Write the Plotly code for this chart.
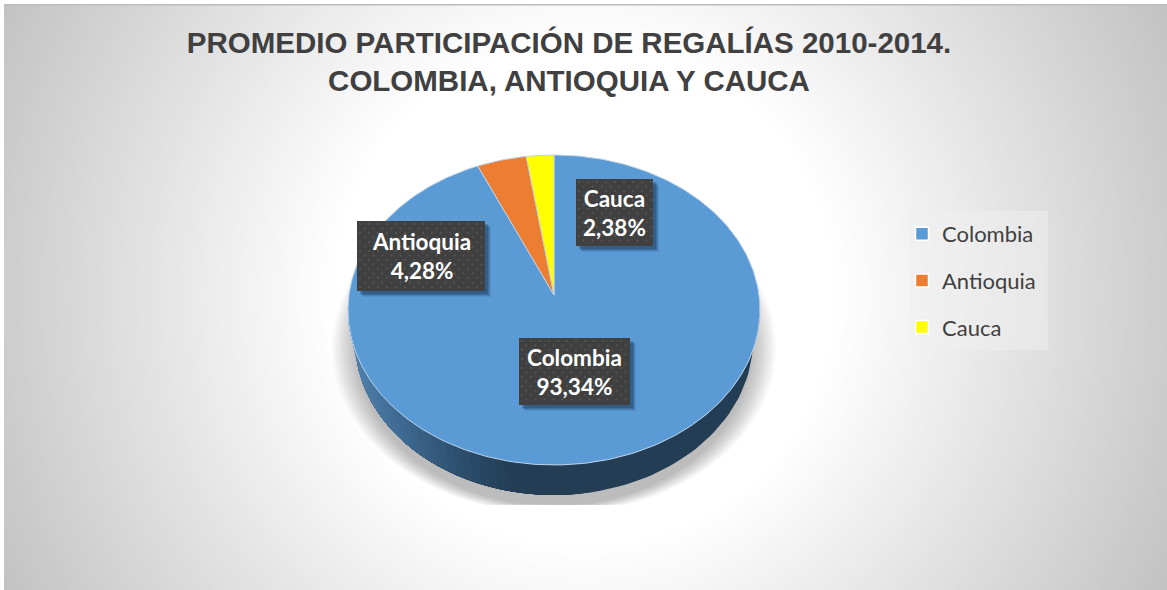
import numpy as np
import plotly.graph_objects as go

# ---- data ----
categories = ["Colombia", "Antioquia", "Cauca"]
values = [93.34, 4.28, 2.38]
title_lines = ["PROMEDIO PARTICIPACIÓN DE REGALÍAS 2010-2014.", "COLOMBIA, ANTIOQUIA Y CAUCA"]

# ---- style ----
slice_colors = ["#5B9BD5", "#ED7D31", "#FFFF00"]
label_boxes = {"Colombia": (519, 630, 338, 405), "Antioquia": (357, 485, 221, 291), "Cauca": (576, 653, 179, 246)}
W, H = 1167, 590
CX, CY, RX, RY = 554, 310, 206, 155
APEX_Y = 295
CY2, RX2, RY2 = 340, 199, 155
FONT = "Lato"

fig = go.Figure()
shapes = []

# radial background
def gray(r):
    v = int(round(255 - max(0, r - 250) * 0.15))
    return f"rgb({v},{v},{v})"
for r in np.arange(680, 246, -4):
    shapes.append(dict(type="circle", xref="x", yref="y", x0=584 - r, x1=584 + r, y0=295 - r, y1=295 + r,
                       fillcolor=gray(r), line=dict(width=0), layer="below"))
# legend panel
shapes.append(dict(type="rect", xref="x", yref="y", x0=910, x1=1048, y0=211, y1=350,
                   fillcolor="rgba(240,240,240,0.5)", line=dict(width=0), layer="below"))
# white picture margin and top edge
shapes.append(dict(type="rect", xref="x", yref="y", x0=0, x1=W, y0=4, y1=5.5, fillcolor="#bcbcbc", line=dict(width=0), layer="above"))
shapes.append(dict(type="rect", xref="x", yref="y", x0=0, x1=W, y0=0, y1=4, fillcolor="#ffffff", line=dict(width=0), layer="above"))
shapes.append(dict(type="rect", xref="x", yref="y", x0=0, x1=4, y0=0, y1=H, fillcolor="#ffffff", line=dict(width=0), layer="above"))

def skip(**kw):
    fig.add_trace(go.Scatter(hoverinfo="skip", showlegend=False, **kw))

# drop shadow below the disc
phi = np.linspace(0, 2 * np.pi, 181)
for i in range(12):
    k = i / 11
    sx = CX + (222 - 24 * k) * np.cos(phi)
    sy = 348 + (166 - 8 * k) * np.sin(phi)
    skip(x=sx, y=np.minimum(sy, 505), mode="lines", fill="toself", line=dict(width=0),
         fillcolor="rgba(0,0,0,0.022)")

# side wall of the disc: each band runs on to the far end, so later bands paint over it with no seams
def wall_color(x):
    stops_x = [355, 397, 463, 515, 760]
    stops = np.array([[0x52, 0x82, 0xAE], [0x41, 0x6F, 0x98], [0x2E, 0x50, 0x70], [0x24, 0x3E, 0x55], [0x23, 0x3D, 0x54]])
    c = [int(np.interp(x, stops_x, stops[:, j])) for j in range(3)]
    return f"rgb({c[0]},{c[1]},{c[2]})"
edges = np.linspace(np.pi / 2 - 0.2, np.pi, 41)
edges = np.r_[0.0, edges]
for a in edges[:-1]:
    t = np.linspace(a, np.pi, 90)
    xs = np.r_[CX + RX * np.cos(t), (CX + RX2 * np.cos(t))[::-1]]
    ys = np.r_[CY + RY * np.sin(t), (CY2 + RY2 * np.sin(t))[::-1]]
    col = wall_color(CX + RX2 * np.cos(a))
    skip(x=xs, y=ys, mode="lines", fill="toself", line=dict(width=0), fillcolor=col)

# slices, drawn from the values: rays from the apex meet the rim of the ellipse
def rim(theta):
    dx, dy = RX * np.sin(theta), -RY * np.cos(theta)
    y0 = APEX_Y - CY
    A = (dx / RX) ** 2 + (dy / RY) ** 2
    B = 2 * y0 * dy / RY ** 2
    C = (y0 / RY) ** 2 - 1
    s = (-B + np.sqrt(B * B - 4 * A * C)) / (2 * A)
    return CX + s * dx, APEX_Y + s * dy

total = sum(values)
start = 0.0
for name, v, col in zip(categories, values, slice_colors):
    end = start + v / total * 2 * np.pi
    th = np.linspace(start, end, max(6, int(v * 4)))
    rx_, ry_ = rim(th)
    fig.add_trace(go.Scatter(x=np.r_[CX, rx_, CX], y=np.r_[APEX_Y, ry_, APEX_Y], mode="lines", fill="toself",
                             fillcolor=col, line=dict(width=1, color="#BDD3E8"), name=name, showlegend=False,
                             hoverinfo="name"))
    start = end

# data labels
annotations = []
for name, v in zip(categories, values):
    x0, x1, y0, y1 = label_boxes[name]
    for off, alpha in ((6, 0.10), (5, 0.14), (4, 0.20), (3, 0.22)):
        skip(x=[x0 + off, x1 + off, x1 + off, x0 + off, x0 + off], y=[y0 + off, y0 + off, y1 + off, y1 + off, y0 + off],
             mode="lines", fill="toself", line=dict(width=0), fillcolor=f"rgba(15,40,70,{alpha})")
    skip(x=[x0, x1, x1, x0, x0], y=[y0, y0, y1, y1, y0], mode="lines", fill="toself", line=dict(width=0), fillcolor="#404040")
    gx, gy = [], []
    for j, yy in enumerate(np.arange(y0 + 3, y1 - 1, 4.5)):
        for xx in np.arange(x0 + 3 + (j % 2) * 4.5, x1 - 1, 9):
            gx.append(xx); gy.append(yy)
    skip(x=gx, y=gy, mode="markers", marker=dict(size=1.8, color="#5A5A5A", line=dict(width=0)))
    label = f"{v:.2f}".replace(".", ",") + "%"
    annotations.append(dict(x=(x0 + x1) / 2, y=(y0 + y1) / 2, xref="x", yref="y", showarrow=False,
                            text=f"<b>{name}<br>{label}</b>", align="center",
                            font=dict(family=FONT, size=22.5, color="#FFFFFF")))

# legend entries
for name, col in zip(categories, slice_colors):
    fig.add_trace(go.Scatter(x=[None], y=[None], mode="markers", name=name, legendgroup=name,
                             marker=dict(symbol="square", size=13, color=col, line=dict(width=1.5, color="#FFFFFF"))))

fig.update_layout(
    width=W, height=H, autosize=False,
    margin=dict(l=0, r=0, t=0, b=0),
    paper_bgcolor="#FFFFFF", plot_bgcolor="rgba(0,0,0,0)",
    title=dict(text="<b>" + "<br>".join(title_lines) + "</b>", x=569 / W, xanchor="center", y=1 - 53 / H, yanchor="middle",
               font=dict(family="Liberation Sans", size=29.5, color="#404040")),
    xaxis=dict(range=[0, W], visible=False, fixedrange=True),
    yaxis=dict(range=[H, 0], visible=False, fixedrange=True),
    shapes=shapes, annotations=annotations,
    legend=dict(x=902 / W, xanchor="left", y=1 - 213 / H, yanchor="top", bgcolor="rgba(0,0,0,0)",
                font=dict(family=FONT, size=22, color="#404040"), tracegroupgap=15, itemclick=False, itemdoubleclick=False),
    hovermode="closest",
)
fig.write_html("out.html", config={"displayModeBar": False},
               post_script="document.body.style.margin='0';document.body.style.overflow='hidden';")
